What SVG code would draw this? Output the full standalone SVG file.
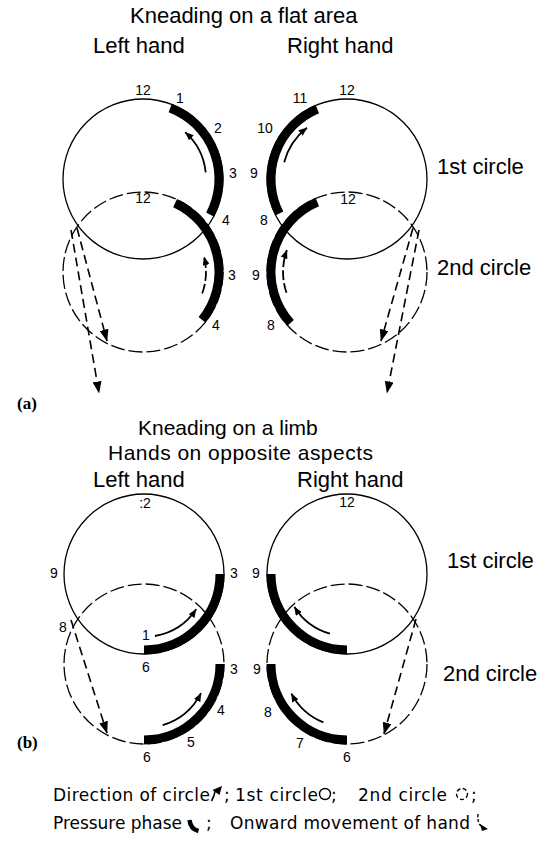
<svg xmlns="http://www.w3.org/2000/svg" width="549" height="842" viewBox="0 0 549 842">
<defs>
<style>
.c1{fill:none;stroke:#000;stroke-width:1.3}
.c2{fill:none;stroke:#000;stroke-width:1.3;stroke-dasharray:14 4}
.band{fill:none;stroke:#000;stroke-width:9}
.dir{fill:none;stroke:#000;stroke-width:1.8}
.dird{fill:none;stroke:#000;stroke-width:1.8;stroke-dasharray:10 3}
.onw{fill:none;stroke:#000;stroke-width:1.6;stroke-dasharray:9 5}
.h{font-family:"Liberation Sans",Arial,sans-serif;font-size:22px;fill:#000}
.h2{font-family:"Liberation Sans",Arial,sans-serif;font-size:21px;fill:#000}
.n{font-family:"Liberation Sans",Arial,sans-serif;font-size:14px;fill:#000;text-anchor:middle}
.lab{font-family:"Liberation Serif","Times New Roman",serif;font-size:17px;font-weight:bold;fill:#000}
.lg{font-family:"DejaVu Sans",sans-serif;font-size:17px;fill:#000}
</style>
<marker id="ah" viewBox="0 0 10 8" refX="9.5" refY="4" markerWidth="9" markerHeight="7" orient="auto" markerUnits="userSpaceOnUse"><path d="M0,0L10,4L0,8z"/></marker>
<marker id="ah2" viewBox="0 0 12 9" refX="11.5" refY="4.5" markerWidth="12" markerHeight="9" orient="auto" markerUnits="userSpaceOnUse"><path d="M0,0L12,4.5L0,9z"/></marker>
</defs>
<rect width="549" height="842" fill="#fff"/>

<g id="headings-a">
<text class="h" x="130" y="23">Kneading on a flat area</text>
<text class="h" x="93" y="53">Left hand</text>
<text class="h" x="287" y="53">Right hand</text>
<text class="h" x="437" y="174">1st circle</text>
<text class="h" x="437" y="275">2nd circle</text>
<text class="lab" x="17" y="409">(a)</text>
</g>

<g id="a-left">
<circle class="c1" cx="143" cy="179" r="80"/>
<circle class="c2" cx="143" cy="272" r="80"/>
<path class="band" d="M170.2,108 A76,76 0 0 1 210.1,214.7"/>
<path class="band" d="M175.1,203.1 A76,76 0 0 1 202.1,319.8"/>
<path class="dir" marker-end="url(#ah)" d="M205.7,172.4 A63,63 0 0 0 185.2,132.2"/>
<path class="dird" marker-end="url(#ah)" d="M202.2,293.5 A63,63 0 0 0 204.1,256.8"/>
<text class="n" x="143" y="95">12</text>
<text class="n" x="180" y="103">1</text>
<text class="n" x="218" y="133">2</text>
<text class="n" x="233" y="178">3</text>
<text class="n" x="226" y="225">4</text>
<text class="n" x="143" y="203">12</text>
<text class="n" x="232" y="280">3</text>
<text class="n" x="216" y="330">4</text>
</g>

<g id="a-right">
<circle class="c1" cx="347" cy="179" r="80"/>
<circle class="c2" cx="347" cy="272" r="80"/>
<path class="band" d="M279.3,213.5 A76,76 0 0 1 317.3,109"/>
<path class="band" d="M290.5,322.9 A76,76 0 0 1 317.3,202"/>
<path class="dir" marker-end="url(#ah)" d="M284.2,162.2 A65,65 0 0 1 307,127.8"/>
<path class="dird" marker-end="url(#ah)" d="M286.5,292.8 A64,64 0 0 1 286.9,250.1"/>
<text class="n" x="347" y="95">12</text>
<text class="n" x="300" y="103">11</text>
<text class="n" x="265" y="133">10</text>
<text class="n" x="254" y="178">9</text>
<text class="n" x="264" y="225">8</text>
<text class="n" x="348" y="204">12</text>
<text class="n" x="256" y="280">9</text>
<text class="n" x="271" y="330">8</text>
</g>

<g id="headings-b">
<text class="h2" x="138" y="435">Kneading on a limb</text>
<text class="h2" x="108" y="460" textLength="265" lengthAdjust="spacing">Hands on opposite aspects</text>
<text class="h" x="93" y="487">Left hand</text>
<text class="h" x="297" y="487">Right hand</text>
<text class="h" x="447" y="568">1st circle</text>
<text class="h" x="443" y="681">2nd circle</text>
<text class="lab" x="17" y="748">(b)</text>
</g>

<g id="b-left">
<circle class="c1" cx="144" cy="574" r="80"/>
<circle class="c2" cx="144" cy="664" r="80"/>
<path class="band" d="M220,574 A76,76 0 0 1 144,650"/>
<path class="band" d="M220,664 A76,76 0 0 1 144,740"/>
<path class="dir" marker-end="url(#ah)" d="M154.9,636 A63,63 0 0 0 196.2,609.2"/>
<path class="dir" marker-end="url(#ah)" d="M162.7,725.2 A64,64 0 0 0 201,693.1"/>
<text class="n" x="145" y="508">:2</text>
<text class="n" x="54" y="578">9</text>
<text class="n" x="234" y="578">3</text>
<text class="n" x="63" y="632">8</text>
<text class="n" x="146" y="640">1</text>
<text class="n" x="146" y="672">6</text>
<text class="n" x="234" y="674">3</text>
<text class="n" x="221" y="715">4</text>
<text class="n" x="191" y="747">5</text>
<text class="n" x="147" y="762">6</text>
</g>

<g id="b-right">
<circle class="c1" cx="347" cy="574" r="80"/>
<circle class="c2" cx="347" cy="664" r="80"/>
<path class="band" d="M347,650 A76,76 0 0 1 271,574"/>
<path class="band" d="M347,740 A76,76 0 0 1 271,664"/>
<path class="dir" marker-end="url(#ah)" d="M329.9,633.6 A62,62 0 0 1 294.4,606.9"/>
<path class="dir" marker-end="url(#ah)" d="M323.4,722.4 A63,63 0 0 1 291.4,693.6"/>
<text class="n" x="347" y="507">12</text>
<text class="n" x="256" y="578">9</text>
<text class="n" x="257" y="674">9</text>
<text class="n" x="268" y="717">8</text>
<text class="n" x="300" y="748">7</text>
<text class="n" x="347" y="762">6</text>
</g>

<g id="connectors">
<path class="onw" marker-end="url(#ah2)" d="M77,228 L107,341"/>
<path class="onw" marker-end="url(#ah2)" d="M71,230 L99,393"/>
<path class="onw" marker-end="url(#ah2)" d="M413,228 L381,341"/>
<path class="onw" marker-end="url(#ah2)" d="M419,230 L387,393"/>
<path class="onw" marker-end="url(#ah2)" d="M71,620 L107,733"/>
<path class="onw" marker-end="url(#ah2)" d="M416,619 L384,734"/>
</g>

<g id="legend">
<text class="lg" x="53" y="801" textLength="157" lengthAdjust="spacing">Direction of circle</text>
<path d="M211.5,801 C214,797 215,793 215.5,789" fill="none" stroke="#000" stroke-width="1.6"/>
<path d="M212.5,790 L222,786 L219.5,795 z" fill="#000"/>
<text class="lg" x="224" y="801">;</text>
<text class="lg" x="235" y="801" textLength="83" lengthAdjust="spacing">1st circle</text>
<circle cx="325" cy="794" r="5.5" fill="none" stroke="#000" stroke-width="1.4"/>
<text class="lg" x="331" y="801">;</text>
<text class="lg" x="358" y="801" textLength="89" lengthAdjust="spacing">2nd circle</text>
<circle cx="462" cy="794" r="5.5" fill="none" stroke="#000" stroke-width="1.4" stroke-dasharray="4 2.5"/>
<text class="lg" x="471" y="801">;</text>
<text class="lg" x="53" y="829" textLength="129" lengthAdjust="spacing">Pressure phase</text>
<path d="M189.5,820 Q190.5,829 198.5,831" fill="none" stroke="#000" stroke-width="4.5"/>
<text class="lg" x="206" y="829">;</text>
<text class="lg" x="230" y="829" textLength="240" lengthAdjust="spacing">Onward movement of hand</text>
<path d="M478,814 Q477,822 481,826" fill="none" stroke="#000" stroke-width="1.4" stroke-dasharray="3 2"/>
<path d="M480,824 L488,829 L482,831 z" fill="#000"/>
</g>
</svg>
